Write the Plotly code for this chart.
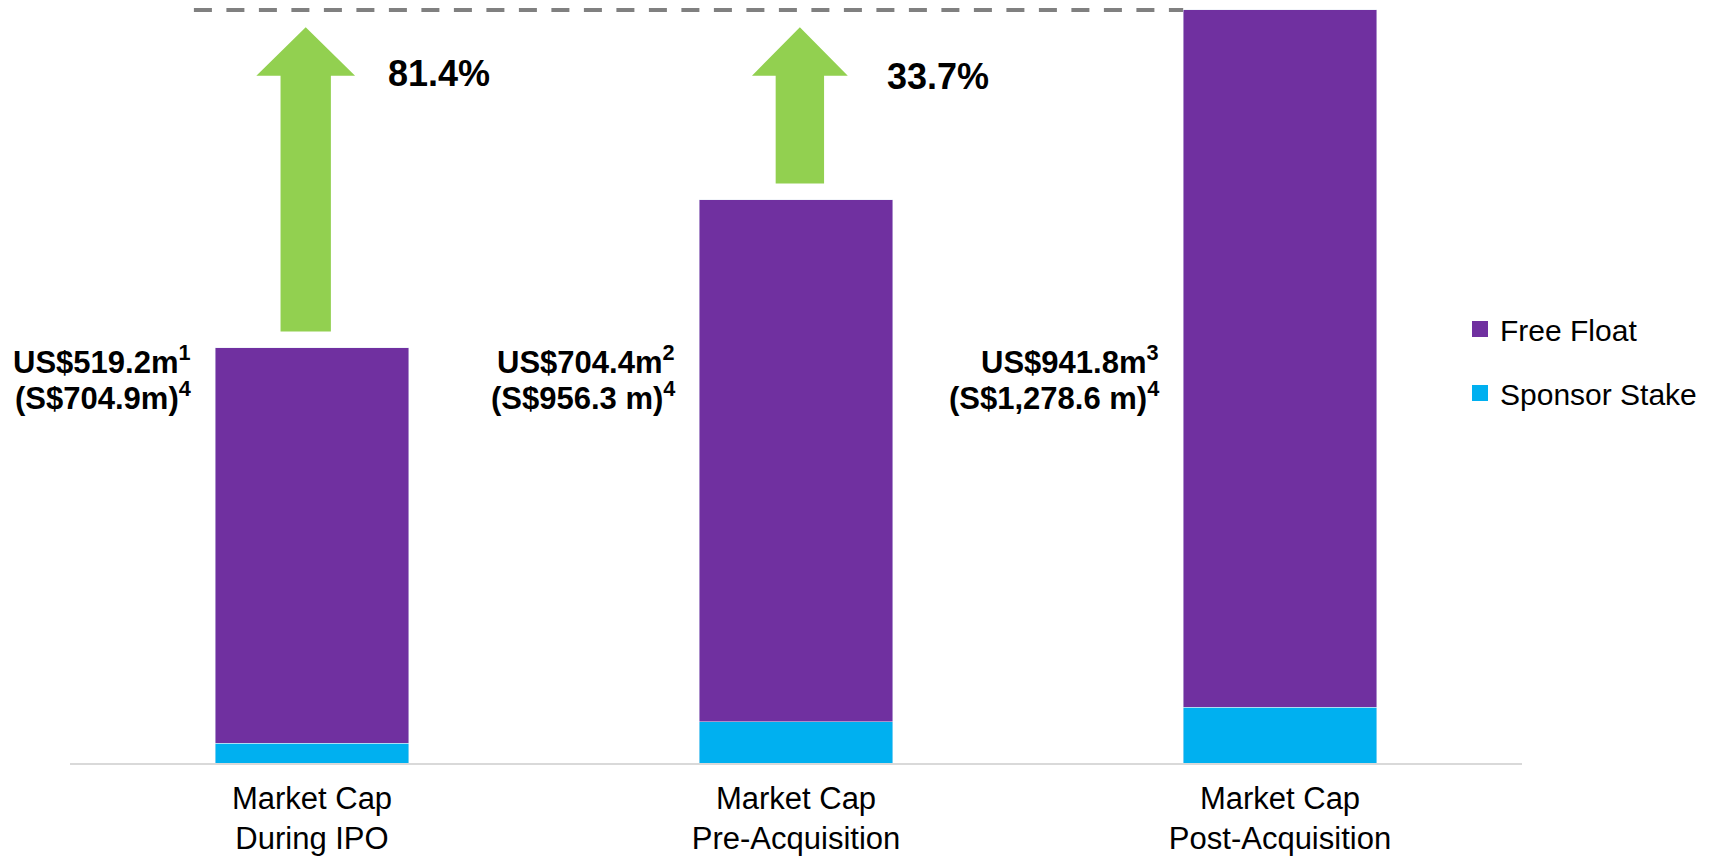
import plotly.graph_objects as go

# ---- data (US$ m) ----
categories = ["Market Cap<br>During IPO", "Market Cap<br>Pre-Acquisition", "Market Cap<br>Post-Acquisition"]
total_mcap = [519.2, 704.4, 941.8]
sponsor_stake = [25.0, 51.3, 69.7]
free_float = [494.2, 653.1, 872.1]
usd_labels = ["US$519.2m", "US$704.4m", "US$941.8m"]
usd_notes = ["1", "2", "3"]
sgd_labels = ["(S$704.9m)", "(S$956.3 m)", "(S$1,278.6 m)"]
sgd_notes = ["4", "4", "4"]
growth_labels = ["81.4%", "33.7%"]

PURPLE = "#7030A0"
CYAN = "#00B0F0"
GREEN = "#92D050"
GREY = "#808080"
FONT = "Arial, 'Liberation Sans', sans-serif"

W, H = 1724, 856
ML, MR, MT, MB = 70, 202, 0, 93
PLOT_H = H - MT - MB
YMAX = 954.3

xpos = list(range(len(categories)))

fig = go.Figure()
fig.add_trace(go.Bar(x=xpos, y=sponsor_stake, name="Sponsor Stake", marker_color=CYAN,
                     width=0.4, showlegend=False, hoverinfo="skip"))
fig.add_trace(go.Bar(x=xpos, y=free_float, name="Free Float", marker_color=PURPLE,
                     width=0.4, showlegend=False, hoverinfo="skip"))

# legend entries (square markers)
fig.add_trace(go.Scatter(x=[None], y=[None], mode="markers", name="Free Float",
                         marker=dict(symbol="square", size=17, color=PURPLE), legendgroup="a"))
fig.add_trace(go.Scatter(x=[None], y=[None], mode="markers", name="Sponsor Stake",
                         marker=dict(symbol="square", size=17, color=CYAN), legendgroup="b"))

shapes = []
# dashed reference line at the post-acquisition level
shapes.append(dict(type="line", xref="x", yref="y", x0=-0.244, x1=1.8,
                   y0=total_mcap[2], y1=total_mcap[2], layer="below",
                   line=dict(color=GREY, width=4, dash="18px,14.5px")))

# growth arrows
px_per_val = PLOT_H / YMAX
arrow_off = [-0.013, 0.008]
head_hw = [0.102, 0.099]
shaft_hw = [0.052, 0.050]
for i in range(2):
    cx = xpos[i] + arrow_off[i]
    y_bot = total_mcap[i] + 20.5
    y_tip = total_mcap[2] - 21.5
    y_head = y_tip - 48.5 / px_per_val
    path = (f"M {cx - shaft_hw[i]} {y_bot} L {cx - shaft_hw[i]} {y_head} "
            f"L {cx - head_hw[i]} {y_head} L {cx} {y_tip} L {cx + head_hw[i]} {y_head} "
            f"L {cx + shaft_hw[i]} {y_head} L {cx + shaft_hw[i]} {y_bot} Z")
    shapes.append(dict(type="path", xref="x", yref="y", path=path,
                       fillcolor=GREEN, line=dict(width=0), layer="above"))

def paper_y(px):
    return (H - MB - px) / PLOT_H

def sup(t):
    return f"<sup>{t}</sup>"

annotations = []
for i in range(3):
    annotations.append(dict(x=xpos[i] - 0.2, y=paper_y(359.5), xref="x", yref="paper",
                            text=f"<b>{usd_labels[i]}{sup(usd_notes[i])}</b>", showarrow=False,
                            xanchor="right", yanchor="middle", xshift=-22,
                            font=dict(family=FONT, size=31, color="black")))
    annotations.append(dict(x=xpos[i] - 0.2, y=paper_y(396), xref="x", yref="paper",
                            text=f"<b>{sgd_labels[i]}{sup(sgd_notes[i])}</b>", showarrow=False,
                            xanchor="right", yanchor="middle", xshift=-22,
                            font=dict(family=FONT, size=31, color="black")))
pct_xshift = [74, 89]
pct_y = [74, 76]
for i in range(2):
    annotations.append(dict(x=xpos[i], y=paper_y(pct_y[i]), xref="x", yref="paper",
                            text=f"<b>{growth_labels[i]}</b>", showarrow=False,
                            xanchor="left", yanchor="middle", xshift=pct_xshift[i],
                            font=dict(family=FONT, size=36, color="black")))

fig.update_layout(
    width=W, height=H,
    margin=dict(l=ML, r=MR, t=MT, b=MB, pad=0),
    barmode="stack",
    plot_bgcolor="white", paper_bgcolor="white",
    font=dict(family=FONT, color="black", size=30),
    shapes=shapes,
    annotations=annotations,
    showlegend=True,
    legend=dict(x=(1460 - ML) / (W - ML - MR), y=paper_y(303), xanchor="left", yanchor="top",
                traceorder="grouped", tracegroupgap=22, itemwidth=30,
                font=dict(family=FONT, size=30, color="black"),
                bgcolor="rgba(0,0,0,0)", borderwidth=0),
    xaxis=dict(range=[-0.5, 2.5], tickmode="array", tickvals=xpos, ticktext=categories,
               showgrid=False, zeroline=False, showline=True, linecolor="#D9D9D9",
               linewidth=1.5, ticks="", ticklabelstandoff=7,
               tickfont=dict(family=FONT, size=31, color="black"),
               fixedrange=True),
    yaxis=dict(range=[0, YMAX], visible=False, showgrid=False, zeroline=False, fixedrange=True),
)

fig.write_html("out.html")
